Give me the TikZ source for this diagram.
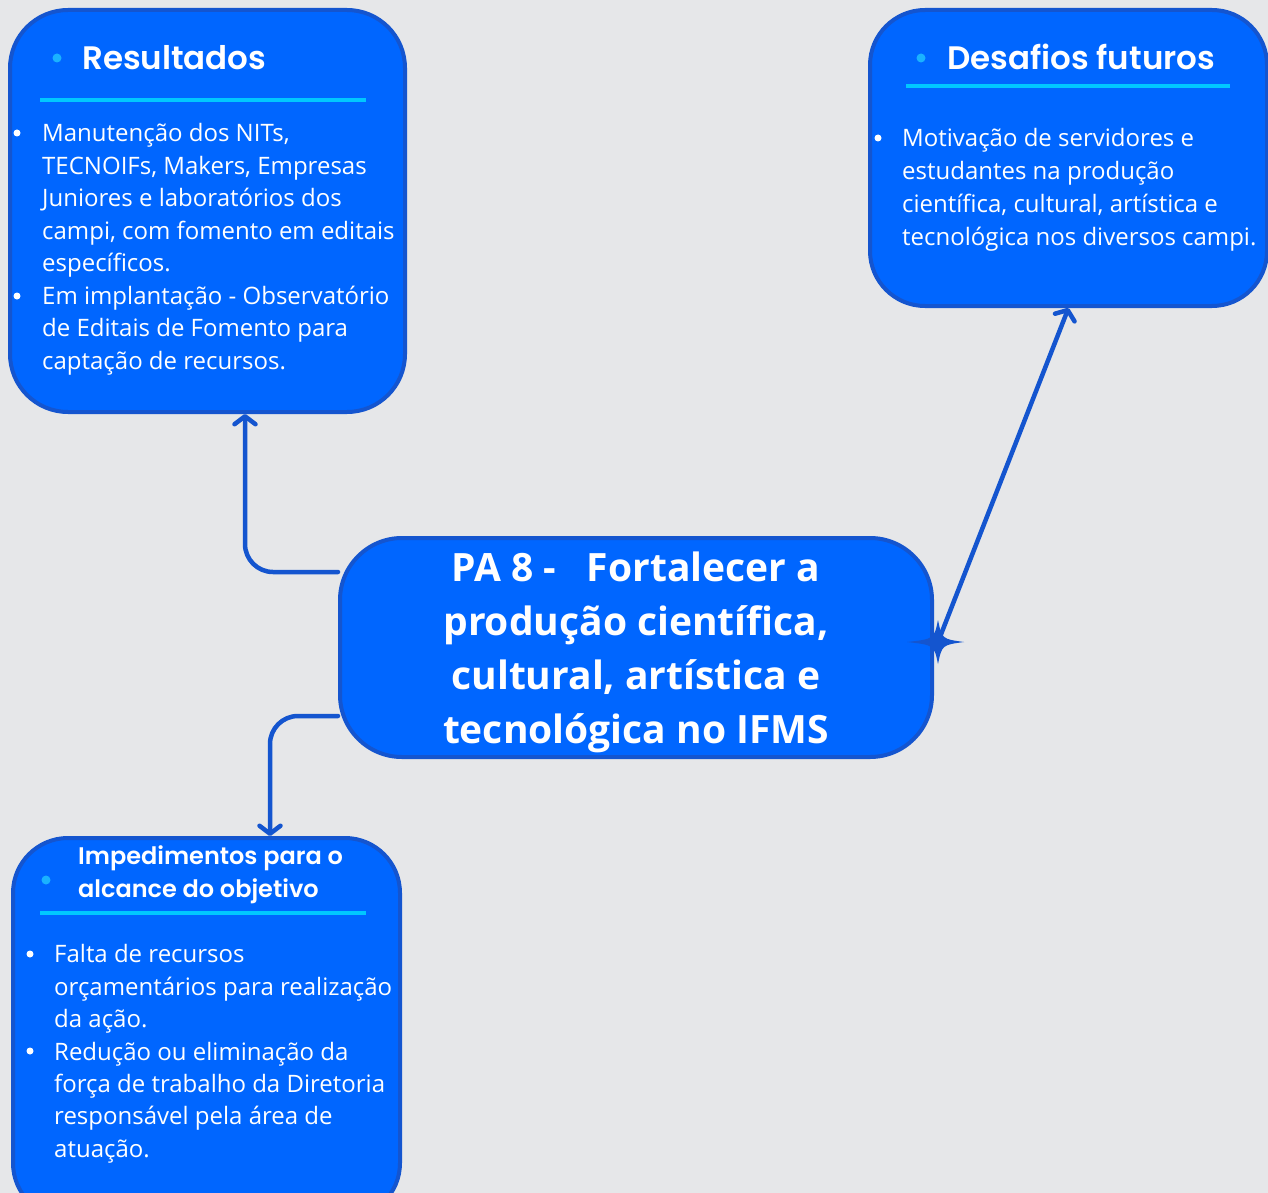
\documentclass[tikz,border=0pt]{standalone}
\usepackage{fontspec}
\setmainfont{Open Sans}
\IfFontExistsTF{Poppins SemiBold}
  {\newfontfamily\titlefont{Poppins SemiBold}\newcommand\ttlweight{}}
  {\newfontfamily\titlefont{Poppins}\newcommand\ttlweight{\bfseries}}
\usetikzlibrary{arrows.meta,backgrounds}
\definecolor{bgc}{HTML}{E6E7E9}
\definecolor{boxfill}{HTML}{0066FF}
\definecolor{boxline}{HTML}{1455CF}
\definecolor{cyanline}{HTML}{00C8FF}
\definecolor{dotcyan}{HTML}{1AB2FF}
\tikzset{
  box/.style={draw=boxline, fill=boxfill, line width=4pt, rounded corners=58pt, inner sep=0pt},
  conn/.style={draw=boxline, line width=4.5pt, rounded corners=28pt, line cap=round,
    -{Straight Barb[length=8pt,width=21pt,line cap=round,line join=round]}},
  body/.style={anchor=north west, inner sep=0pt, text=white, align=left, font=\fontsize{24}{32.5}\selectfont},
  ttl/.style={inner sep=0pt, text=white, font=\titlefont\ttlweight\fontsize{32.5}{36}\selectfont},
  uline/.style={draw=cyanline, line width=4pt},
}
\begin{document}
\begin{tikzpicture}[x=1pt,y=-1pt]
\useasboundingbox (0,0) rectangle (1268,1193);
% boxes
\node[box, minimum width=395pt, minimum height=402pt] (res) at (207.5,211) {};
\node[box, minimum width=397pt, minimum height=296pt, rounded corners=55pt] (des) at (1068.5,158) {};
\node[box, minimum width=592pt, minimum height=219pt, rounded corners=62pt] (center) at (636,647.5) {};
\node[box, minimum width=387pt, minimum height=380pt, rounded corners=55pt] (imp) at (206.5,1028) {};
\coordinate (star) at (938,642);
% background and connectors
\begin{pgfonlayer}{background}
\fill[bgc] (0,0) rectangle (1268,1193);
\draw[conn] ([yshift=75.5pt]center.west) -| ([xshift=37.5pt]res.south);
\draw[conn] ([yshift=-68.5pt]center.west) -| ([xshift=63.5pt]imp.north);
\draw[conn] (star) -- (des.south);
\end{pgfonlayer}
% star marker
\fill[boxline] (907,642) .. controls (934,639) .. (938,620) .. controls (942,639) .. (964,642)
  .. controls (942,645) .. (938,664) .. controls (934,645) .. cycle;
% Resultados
\fill[dotcyan] (57,58) circle[radius=4.5pt];
\node[ttl, anchor=west] (restitle) at (82,58) {Resultados};
\draw[uline] (40,100) -- (366,100);
\fill[white] (17,133) circle[radius=3.5pt];
\fill[white] (17,296) circle[radius=3.5pt];
\node[body] (restext) at (42,123.5) {Manutenção dos NITs,\\TECNOIFs, Makers, Empresas\\Juniores e laboratórios dos\\campi, com fomento em editais\\específicos.\\Em implantação - Observatório\\de Editais de Fomento para\\captação de recursos.};
% Desafios
\fill[dotcyan] (921,58) circle[radius=4.5pt];
\node[ttl, anchor=west] (destitle) at (947,57) {Desafios futuros};
\draw[uline] (906,86) -- (1230,86);
\fill[white] (878,138) circle[radius=3.5pt];
\node[body, font=\fontsize{24}{33}\selectfont] (destext) at (902,128.5) {Motivação de servidores e\\estudantes na produção\\científica, cultural, artística e\\tecnológica nos diversos campi.};
% Center
\node[inner sep=0pt, text=white, align=center, font=\bfseries\fontsize{39}{54}\selectfont] (ctext) at (636,652) {PA 8 -\ \ \ Fortalecer a\\produção científica,\\cultural, artística e\\tecnológica no IFMS};
% Impedimentos
\fill[dotcyan] (46,880) circle[radius=4.5pt];
\node[ttl, anchor=north west, align=left, font=\titlefont\ttlweight\fontsize{24}{33}\selectfont] (imptitle) at (78,845) {Impedimentos para o\\alcance do objetivo};
\draw[uline] (40,913) -- (366,913);
\fill[white] (30,954) circle[radius=3.5pt];
\fill[white] (30,1051) circle[radius=3.5pt];
\node[body, font=\fontsize{24}{32.4}\selectfont] (imptext) at (54,944.5) {Falta de recursos\\orçamentários para realização\\da ação.\\Redução ou eliminação da\\força de trabalho da Diretoria\\responsável pela área de\\atuação.};
\end{tikzpicture}
\end{document}
